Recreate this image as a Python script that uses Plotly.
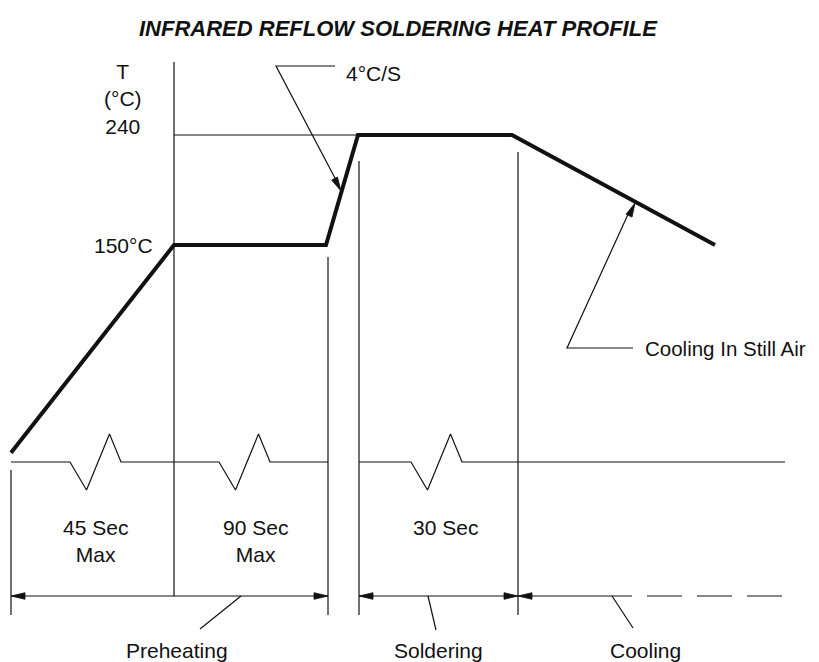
import math
import plotly.graph_objects as go

W, H = 819, 662
PAGE_MARGIN = 8   # default body margin of the html page

# ---- data ---------------------------------------------------------------
# heat profile: time (diagram units) vs temperature (deg C)
profile_time = [11, 174, 326, 358, 512, 715]
profile_temp = [-20, 150, 150, 240, 240, 150]

# temperature tick labels
temp_labels = ["240", "150°C"]
temp_values = [240, 150]

# stage boundaries (time units)
stage_bounds = [11, 174, 328, 359, 518]
stage_names = ["Preheating", "Soldering", "Cooling"]
stage_name_x = [177, 438, 645]
duration_labels = ["45 Sec<br>Max", "90 Sec<br>Max", "30 Sec"]
duration_centers = [95, 255, 445]

# ---- helpers (diagram geometry) -----------------------------------------
DEG_PX = 110 / 90.0          # pixels per degree on the vertical axis


def yv(py):
    """vertical diagram position (px from top) -> temperature value"""
    return 150 - (py - 245) / DEG_PX


def t2px(t):
    return 245 - (t - 150) * DEG_PX


FONT = "Liberation Sans, Arial, Helvetica, sans-serif"
FS = 21
INK = "#111111"
fig = go.Figure()


def line(xs, pys, width=1.2, dash=None, color=INK):
    fig.add_trace(go.Scatter(
        x=xs, y=[yv(p) for p in pys], mode="lines",
        line=dict(color=color, width=width, dash=dash),
        hoverinfo="skip", showlegend=False))


def head(tip, frm, length=14, half=3.3):
    tx, ty = tip
    fx, fy = frm
    d = math.hypot(tx - fx, ty - fy)
    ux, uy = (tx - fx) / d, (ty - fy) / d
    bx, by = tx - ux * length, ty - uy * length
    px, py = -uy * half, ux * half
    xs = [tx, bx + px, bx - px, tx]
    ys = [ty, by + py, by - py, ty]
    fig.add_trace(go.Scatter(
        x=xs, y=[yv(p) for p in ys], mode="lines", fill="toself",
        fillcolor=INK, line=dict(color=INK, width=0.8),
        hoverinfo="skip", showlegend=False))


def text(s, x, py, size=FS, anchor="center", bold=False, italic=False):
    if bold:
        s = "<b>" + s + "</b>"
    if italic:
        s = "<i>" + s + "</i>"
    fig.add_annotation(x=x, y=yv(py), xref="x", yref="y", text=s,
                       showarrow=False, xanchor=anchor, yanchor="middle",
                       font=dict(family=FONT, size=size, color=INK))


# ---- thin reference lines -------------------------------------------------
line([stage_bounds[1], profile_time[4]], [t2px(240), t2px(240)])
vert = {11: (470, 615), 174: (62, 596), 328: (257, 615), 359: (161, 615), 518: (152, 615)}
for xb in stage_bounds:
    a, b = vert[xb]
    line([xb, xb], [a, b])

# baseline with break symbols
BASE = 462


def zig_path(x0, x1, zigs):
    xs, ys = [x0], [BASE]
    for z in zigs:
        for dx, dy in [(0, 0), (16.5, 28), (39.5, -28), (51, 0)]:
            xs.append(z + dx)
            ys.append(BASE + dy)
    xs.append(x1)
    ys.append(BASE)
    return xs, ys


xs, ys = zig_path(11, 328, [70, 219])
line(xs, ys)
xs, ys = zig_path(359, 785, [411])
line(xs, ys)

# dimension arrows
DIM = 596
line([11, 328], [DIM, DIM])
head((11, DIM), (328, DIM))
head((328, DIM), (11, DIM))
line([359, 518], [DIM, DIM])
head((359, DIM), (518, DIM))
head((518, DIM), (359, DIM))
line([518, 632], [DIM, DIM])
head((518, DIM), (632, DIM))
line([647, 782], [DIM, DIM], dash="35px,15px")

# leaders for stage names
line([241, 200], [DIM, 629])
line([428, 436], [DIM, 630])
line([612, 633], [DIM, 628])
for nm, nx in zip(stage_names, stage_name_x):
    text(nm, nx, 650)

# duration labels
for lab, cx in zip(duration_labels, duration_centers):
    text(lab, cx, 541 if "Max" in lab else 527)

# ---- heat profile -----------------------------------------------------------
fig.add_trace(go.Scatter(
    x=profile_time, y=profile_temp, mode="lines",
    line=dict(color=INK, width=4),
    hoverinfo="skip", showlegend=False))

# callouts
line([335, 276, 336], [66, 66, 180])
head((341, 191), (276, 66))
text("4°C/S", 344, 73, anchor="left")

line([633, 567, 630], [348, 348, 210])
head((635, 203), (567, 348))
text("Cooling In Still Air", 643, 348, size=20.5, anchor="left")

# axis labels
text("T<br>(°C)<br>" + temp_labels[0], 122.5, 99)
text(temp_labels[1], 155, t2px(temp_values[1]), anchor="right")

# title
text("INFRARED REFLOW SOLDERING HEAT PROFILE", 398, 28, size=22, bold=True, italic=True)

fig.update_layout(
    width=W - PAGE_MARGIN, height=H - PAGE_MARGIN, margin=dict(l=0, r=0, t=0, b=0),
    paper_bgcolor="white", plot_bgcolor="white",
    xaxis=dict(range=[PAGE_MARGIN, W], visible=False, fixedrange=True),
    yaxis=dict(range=[yv(H), yv(PAGE_MARGIN)], visible=False, fixedrange=True),
)

fig.write_html("out.html")
